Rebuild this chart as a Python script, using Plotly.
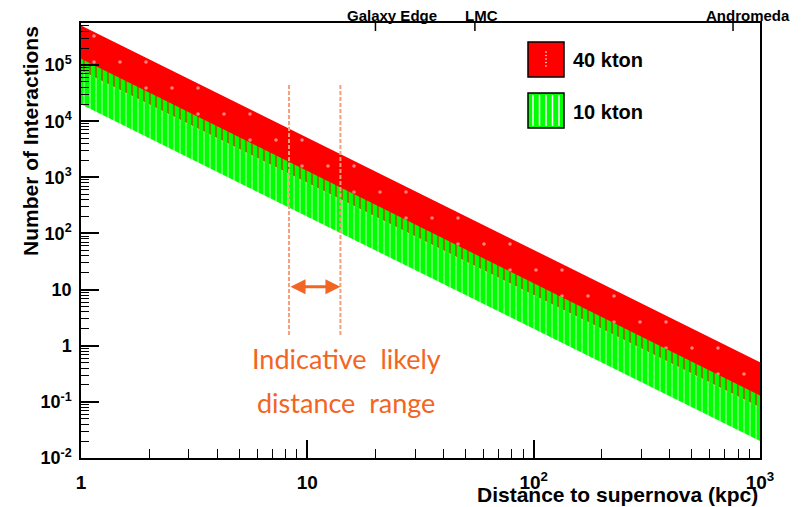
import numpy as np
import plotly.graph_objects as go

# ---------------- data ----------------
distance_kpc = [1, 10, 100, 1000]
n40_upper = [5.1e5, 5.1e3, 51, 0.51]
n40_lower = [8.0e4, 8.0e2, 8.0, 0.08]
n10_upper = [1.3e5, 1.3e3, 13, 0.13]
n10_lower = [2.0e4, 2.0e2, 2.0, 0.02]

range_kpc = [8.3, 14.0]          # indicative likely distance range
range_y = [1.55, 4.5e4]          # vertical extent of dashed markers
arrow_y = 11.2

landmark_names = ["Galaxy Edge", "LMC", "Andromeda"]
landmark_kpc = [20, 55, 760]
landmark_shift = [17, 7, 15]

x_tickvals = [1, 10, 100, 1000]
x_ticktext = ["1", "10", "10<sup>2</sup>", "10<sup>3</sup>"]
y_tickvals = [0.01, 0.1, 1, 10, 100, 1e3, 1e4, 1e5]
y_ticktext = ["10<sup>-2</sup>", "10<sup>-1</sup>", "1", "10", "10<sup>2</sup>",
              "10<sup>3</sup>", "10<sup>4</sup>", "10<sup>5</sup>"]

X_RANGE = [0, 3]
Y_RANGE = [-2, 5.75]

FONT = "Liberation Sans"
ORANGE = "#F26522"
ORANGE_LIGHT = "#F5A07C"
RED = "#FF0000"
GREEN = "#00FF00"

fig = go.Figure()

def band(upper, lower, pattern):
    fig.add_trace(go.Scatter(
        x=distance_kpc + distance_kpc[::-1],
        y=upper + lower[::-1],
        fill="toself", mode="lines", line=dict(width=0),
        fillpattern=pattern, hoverinfo="skip", showlegend=False))

# 40 kton band (solid red with sparse white marks)
band(n40_upper, n40_lower,
     dict(shape=".", fgcolor="white", bgcolor=RED, size=26, solidity=0.015))
# 10 kton band: part overlapping 40 kton (green stripes, red gaps)
band(n10_upper, n40_lower,
     dict(shape="|", fgcolor=RED, bgcolor=GREEN, size=6, solidity=0.35))
# 10 kton band: lower part (green with thin white lines)
band(n40_lower, n10_lower,
     dict(shape="|", fgcolor="white", bgcolor=GREEN, size=6, solidity=0.25))

# dashed range markers
for d in range_kpc:
    fig.add_trace(go.Scatter(
        x=[d, d], y=range_y, mode="lines",
        line=dict(color=ORANGE_LIGHT, width=2, dash="4px,2px"),
        hoverinfo="skip", showlegend=False))

# double arrow
fig.add_annotation(x=np.log10(range_kpc[1]), y=np.log10(arrow_y),
                   ax=np.log10(range_kpc[0]), ay=np.log10(arrow_y),
                   xref="x", yref="y", axref="x", ayref="y",
                   showarrow=True, arrowhead=2, arrowside="end+start",
                   arrowsize=1.0, arrowwidth=3, arrowcolor=ORANGE, text="")

def px2p(x, y):
    return (x - 81) / 679, (458 - y) / 435

for txt, py in [("Indicative&nbsp;&nbsp;likely", 358), ("distance&nbsp;&nbsp;range", 402)]:
    xp, yp = px2p(346, py)
    fig.add_annotation(x=xp, y=yp, xref="paper", yref="paper",
                       text=txt, showarrow=False,
                       font=dict(family="Lato", size=27, color=ORANGE),
                       xanchor="center", yanchor="middle")

# top landmark ticks + labels
shapes = []
for name, d, sh in zip(landmark_names, landmark_kpc, landmark_shift):
    xp = (np.log10(d) - X_RANGE[0]) / (X_RANGE[1] - X_RANGE[0])
    shapes.append(dict(type="line", xref="paper", yref="paper",
                       x0=xp, x1=xp, y0=1, y1=1 - 8 / 435,
                       line=dict(color="black", width=1.5)))
    fig.add_annotation(x=xp, y=1, xref="paper", yref="paper", yshift=8, xshift=sh,
                       text=name, showarrow=False, xanchor="center", yanchor="middle",
                       font=dict(family=FONT, size=15, color="black", weight="bold"))

# legend (drawn manually)
lx0, ly0 = px2p(528, 42)
lx1, ly1 = px2p(564, 77)
shapes.append(dict(type="rect", xref="paper", yref="paper", x0=lx0, x1=lx1, y0=ly1, y1=ly0,
                   fillcolor=RED, line=dict(color="black", width=1.5)))
gx0, gy0 = px2p(528, 93)
gx1, gy1 = px2p(564, 128)
shapes.append(dict(type="rect", xref="paper", yref="paper", x0=gx0, x1=gx1, y0=gy1, y1=gy0,
                   fillcolor=GREEN, line=dict(color="black", width=1.5)))
for k in range(5):
    xp, _ = px2p(533 + k * 6.5, 0)
    _, ya = px2p(0, 95)
    _, yb = px2p(0, 126)
    shapes.append(dict(type="line", xref="paper", yref="paper", x0=xp, x1=xp, y0=yb, y1=ya,
                       line=dict(color="white", width=1.5)))
for k in range(5):
    xp, yp = px2p(546, 52 + k * 3.5)
    shapes.append(dict(type="circle", xref="paper", yref="paper",
                       x0=xp - 0.8 / 679, x1=xp + 0.8 / 679, y0=yp - 0.8 / 435, y1=yp + 0.8 / 435,
                       fillcolor="white", line=dict(width=0)))

for txt, py in [("40 kton", 60), ("10 kton", 112)]:
    tx, ty = px2p(571, py)
    fig.add_annotation(x=tx, y=ty, xref="paper", yref="paper", text=txt, showarrow=False,
                       xanchor="left", yanchor="middle",
                       font=dict(family=FONT, size=20, color="black", weight="bold"))

# axis titles
fig.add_annotation(x=1, y=(458 - 494) / 435, xref="paper", yref="paper",
                   text="Distance to supernova (kpc)", showarrow=False,
                   xanchor="right", yanchor="middle",
                   font=dict(family=FONT, size=21, color="black", weight="bold"))
fig.add_annotation(x=(30 - 81) / 679, y=(458 - 24) / 435, xref="paper", yref="paper",
                   text="Number of Interactions", showarrow=False, textangle=-90,
                   xanchor="center", yanchor="top",
                   font=dict(family=FONT, size=21, color="black", weight="bold"))

x_minor = [m * 10 ** e for e in range(0, 3) for m in range(2, 10)]
y_minor = [m * 10 ** e for e in range(-2, 6) for m in range(2, 10) if m * 10 ** e < 10 ** 5.75]

fig.update_layout(
    width=802, height=507,
    margin=dict(l=81, r=42, t=23, b=49),
    paper_bgcolor="white", plot_bgcolor="white",
    shapes=shapes,
    xaxis=dict(type="log", range=X_RANGE, showgrid=False, zeroline=False,
               showline=True, linecolor="black", linewidth=1.5, mirror=True,
               ticks="inside", ticklen=18, tickwidth=1.5, tickcolor="black",
               tickvals=x_tickvals, ticktext=x_ticktext, ticklabelstandoff=6,
               tickfont=dict(family=FONT, size=19, color="black", weight="bold"),
               minor=dict(tickvals=x_minor, ticks="inside", ticklen=9, tickwidth=1.2,
                          tickcolor="black", showgrid=False)),
    yaxis=dict(type="log", range=Y_RANGE, showgrid=False, zeroline=False,
               showline=True, linecolor="black", linewidth=1.5, mirror=True,
               ticks="inside", ticklen=18, tickwidth=1.5, tickcolor="black",
               tickvals=y_tickvals, ticktext=y_ticktext, ticklabelstandoff=4,
               tickfont=dict(family=FONT, size=18, color="black", weight="bold"),
               minor=dict(tickvals=y_minor, ticks="inside", ticklen=8, tickwidth=1.2,
                          tickcolor="black", showgrid=False)),
)

fig.write_html("out.html")
